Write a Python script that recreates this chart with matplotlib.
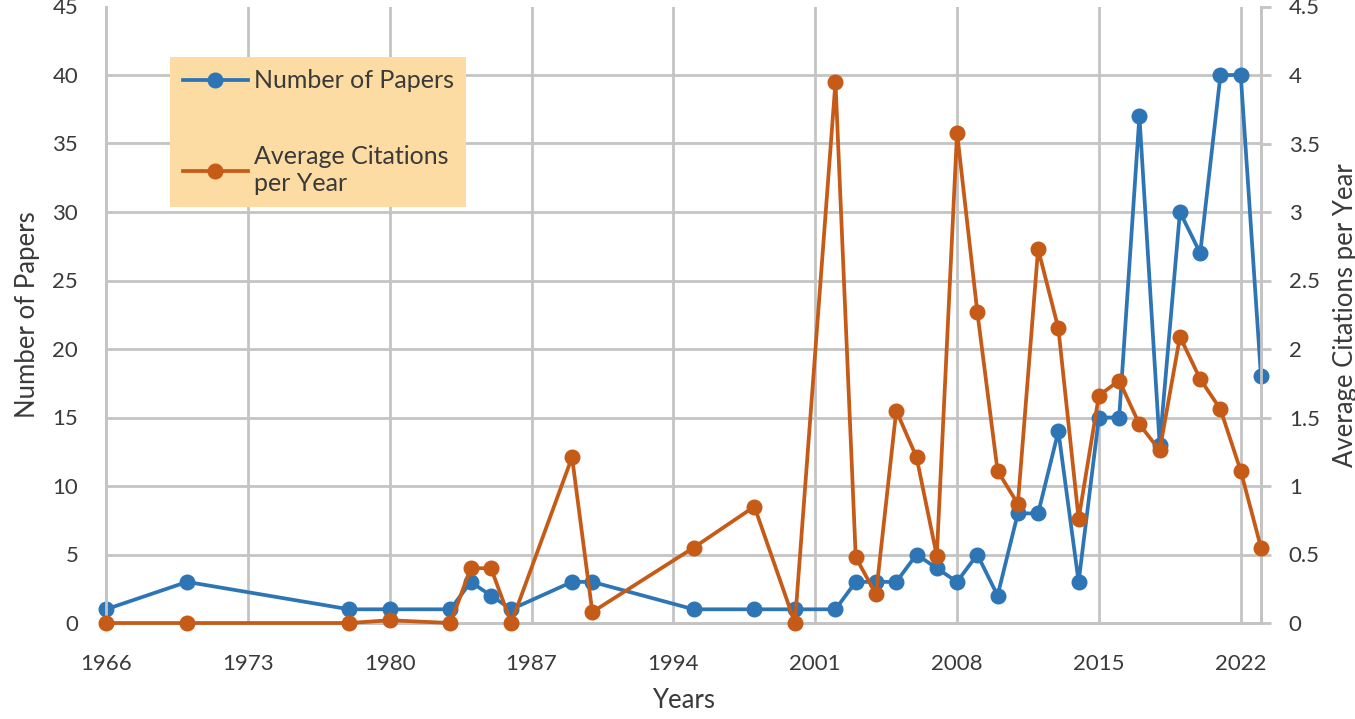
import matplotlib
matplotlib.use('Agg')
import matplotlib.pyplot as plt
from matplotlib.ticker import FuncFormatter

years = [1966, 1970, 1978, 1980, 1983, 1984, 1985, 1986, 1989, 1990,
         1995, 1998, 2000, 2002, 2003, 2004, 2005, 2006, 2007, 2008,
         2009, 2010, 2011, 2012, 2013, 2014, 2015, 2016, 2017, 2018,
         2019, 2020, 2021, 2022, 2023]
papers = [1, 3, 1, 1, 1, 3, 2, 1, 3, 3,
          1, 1, 1, 1, 3, 3, 3, 5, 4, 3,
          5, 2, 8, 8, 14, 3, 15, 15, 37, 13,
          30, 27, 40, 40, 18]
citations = [0, 0, 0, 0.02, 0, 0.40, 0.40, 0, 1.21, 0.08,
             0.55, 0.85, 0, 3.95, 0.48, 0.21, 1.55, 1.21, 0.49, 3.58,
             2.27, 1.11, 0.87, 2.73, 2.15, 0.76, 1.66, 1.77, 1.45, 1.26,
             2.09, 1.78, 1.56, 1.11, 0.55]
x_ticks = [1966, 1973, 1980, 1987, 1994, 2001, 2008, 2015, 2022]
left_ticks = [0, 5, 10, 15, 20, 25, 30, 35, 40, 45]
right_ticks = [0, 0.5, 1, 1.5, 2, 2.5, 3, 3.5, 4, 4.5]

BLUE = '#2e75b6'
ORANGE = '#c65a17'
GRID = '#c4c4c4'
TXT = '#3a3a3a'
FONT = ['Lato', 'DejaVu Sans']
plt.rcParams['font.family'] = FONT
FS_TICK = 16
FS_LAB = 18.5
FS_LEG = 18

fig = plt.figure(figsize=(13.55, 7.19), dpi=100)
W, H = 1355, 719
left_px, right_px, top_px, bot_px = 106, 1261, 6.5, 623
aw, ah = right_px - left_px, bot_px - top_px
ax = fig.add_axes([left_px / W, 1 - bot_px / H, aw / W, ah / H])
ax2 = ax.twinx()

ax.set_xlim(1966, 2023)
ax.set_ylim(0, 45)
ax2.set_ylim(0, 4.5)
ax.set_xticks(x_ticks)
ax.set_yticks(left_ticks)
ax2.set_yticks(right_ticks)
ax2.yaxis.set_major_formatter(FuncFormatter(lambda v, p: '{:g}'.format(v)))

ax.grid(True, color=GRID, lw=2.0)
ax.set_axisbelow(True)
ax.yaxis.get_gridlines()[-1].set_visible(False)

for a in (ax, ax2):
    for s in a.spines.values():
        s.set_color(GRID)
        s.set_linewidth(2.0)
    a.spines['top'].set_visible(False)

ax.tick_params(axis='y', length=0, pad=20, labelsize=FS_TICK, labelcolor=TXT)
ax.tick_params(axis='x', length=0, pad=22, labelsize=FS_TICK, labelcolor=TXT)
ax2.tick_params(axis='y', length=7, width=2, color=GRID, pad=13, labelsize=FS_TICK, labelcolor=TXT)

l1, = ax.plot(years, papers, color=BLUE, lw=2.7, marker='o', markersize=10.5,
              label='Number of Papers', zorder=3, clip_on=False)
l2, = ax2.plot(years, citations, color=ORANGE, lw=2.7, marker='o', markersize=10.5,
               label='Average Citations\nper Year', zorder=3, clip_on=False)

ax.set_xlabel('Years', fontsize=FS_LAB, color=TXT, va='center')
ax.xaxis.set_label_coords(0.5, (bot_px - 700) / ah)
ax.set_ylabel('Number of Papers', fontsize=FS_LAB, color=TXT, va='center')
ax.yaxis.set_label_coords((28 - left_px) / aw, 0.5)
ax2.set_ylabel('Average Citations per Year', fontsize=FS_LAB, color=TXT, va='center')
ax2.yaxis.set_label_coords((1345 - left_px) / aw, 0.5)

leg = ax2.legend(handles=[l1, l2], loc='upper left',
                 bbox_to_anchor=(170 / W, 1 - 57 / H), bbox_transform=fig.transFigure,
                 borderaxespad=0, frameon=True, fancybox=False, framealpha=1,
                 facecolor='#fcdca2', edgecolor='none', fontsize=FS_LEG,
                 handlelength=2.6, handletextpad=0.25, labelspacing=2.1,
                 borderpad=0.5, labelcolor=TXT)

fig.savefig('out.png', dpi=100)
